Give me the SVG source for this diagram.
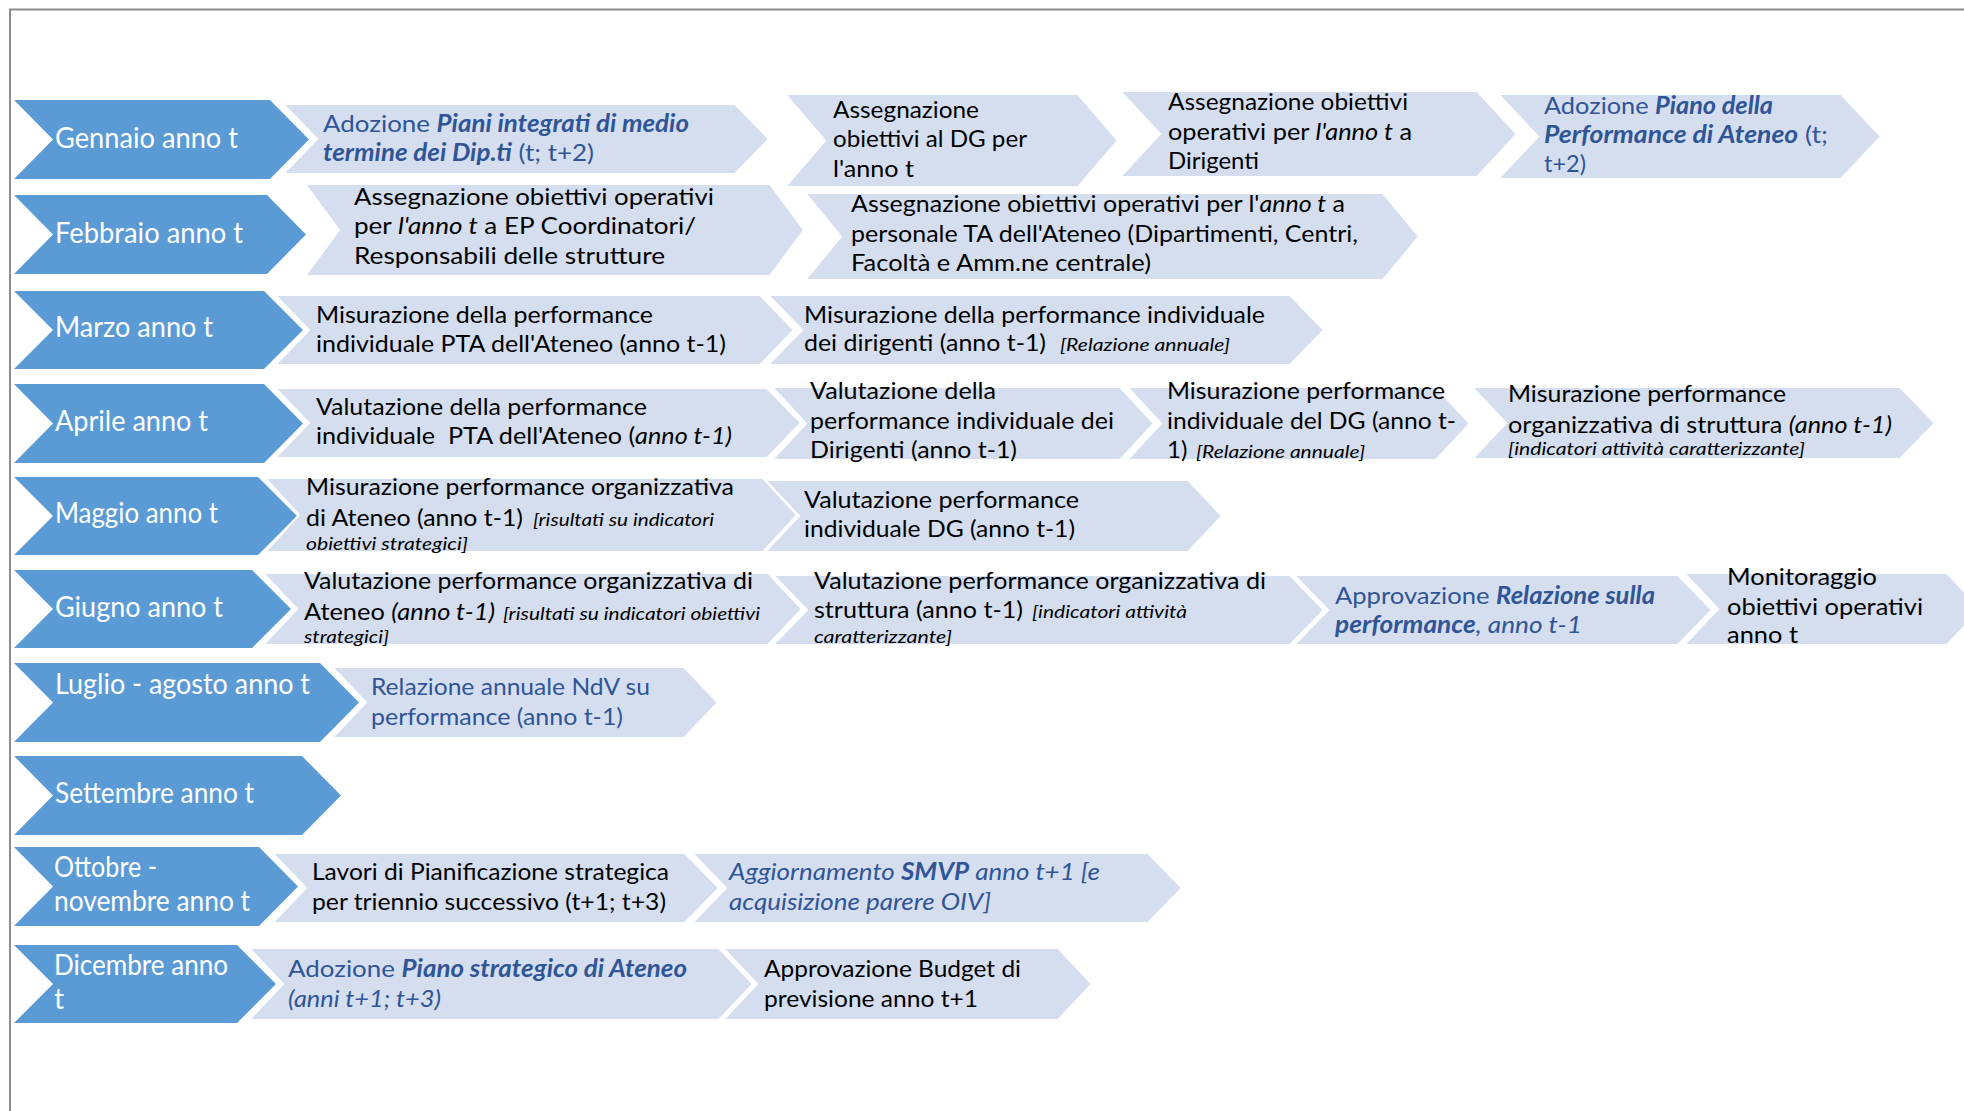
<svg xmlns="http://www.w3.org/2000/svg" width="1964" height="1111" viewBox="0 0 1964 1111">
<style>
.m{fill:#5B9BD5}
.l{fill:#D5DEEF;stroke:#fff;stroke-width:2}
text{font-family:Lato,"Liberation Sans",sans-serif}
.mt{font-size:28px;fill:#fff}
.t{font-size:24px;fill:#000}
.b{fill:#2F5597}
.s{font-size:18px;font-style:italic}
.i{font-style:italic}
.bi{font-weight:bold;font-style:italic}
</style>
<rect width="1964" height="1111" fill="#fff"/>
<path d="M10,1120 V9.5 H1975" fill="none" stroke="#8C8C8C" stroke-width="2"/>
<g id="connectors"/>

<g id="gennaio">
<polygon class="m" points="14,100 270,100 309,139.5 270,179 14,179 53,139.5"/>
<text class="mt" x="55" y="148" textLength="183" lengthAdjust="spacingAndGlyphs">Gennaio anno t</text>
</g>
<g id="gen-1">
<polygon class="l" points="283,104 735,104 769,139 735,174 283,174 317,139"/>
<text class="t b" x="323" y="132" textLength="366" lengthAdjust="spacingAndGlyphs">Adozione <tspan class="bi">Piani integrati di medio</tspan></text>
<text class="t b" x="323" y="161" textLength="271" lengthAdjust="spacingAndGlyphs"><tspan class="bi">termine dei Dip.ti</tspan> (t; t+2)</text>
</g>
<g id="gen-2">
<polygon class="l" points="785,94 1078,94 1118,140.5 1078,187 785,187 825,140.5"/>
<text class="t" x="833" y="118" textLength="146" lengthAdjust="spacingAndGlyphs">Assegnazione</text>
<text class="t" x="833" y="147" textLength="194" lengthAdjust="spacingAndGlyphs">obiettivi al DG per</text>
<text class="t" x="833" y="177" textLength="81" lengthAdjust="spacingAndGlyphs">l'anno t</text>
</g>
<g id="gen-3">
<polygon class="l" points="1120,91 1477,91 1517,134 1477,177 1120,177 1160,134"/>
<text class="t" x="1168" y="110" textLength="240" lengthAdjust="spacingAndGlyphs">Assegnazione obiettivi</text>
<text class="t" x="1168" y="140" textLength="244" lengthAdjust="spacingAndGlyphs">operativi per <tspan class="i">l'anno t</tspan> a</text>
<text class="t" x="1168" y="169" textLength="91" lengthAdjust="spacingAndGlyphs">Dirigenti</text>
</g>
<g id="gen-4">
<polygon class="l" points="1498,94 1841,94 1881,136.5 1841,179 1498,179 1538,136.5"/>
<text class="t b" x="1544" y="114" textLength="229" lengthAdjust="spacingAndGlyphs">Adozione <tspan class="bi">Piano della</tspan></text>
<text class="t b" x="1544" y="143" textLength="284" lengthAdjust="spacingAndGlyphs"><tspan class="bi">Performance di Ateneo</tspan> (t;</text>
<text class="t b" x="1544" y="172" textLength="42" lengthAdjust="spacingAndGlyphs">t+2)</text>
</g>

<g id="febbraio">
<polygon class="m" points="14,195 267,195 306,234.5 267,274 14,274 53,234.5"/>
<text class="mt" x="55" y="243" textLength="188" lengthAdjust="spacingAndGlyphs">Febbraio anno t</text>
</g>
<g id="feb-1">
<polygon class="l" points="305,184 770,184 804,230 770,276 305,276 339,230"/>
<text class="t" x="354" y="205" textLength="360" lengthAdjust="spacingAndGlyphs">Assegnazione obiettivi operativi</text>
<text class="t" x="354" y="234" textLength="342" lengthAdjust="spacingAndGlyphs">per <tspan class="i">l'anno t</tspan> a EP Coordinatori/</text>
<text class="t" x="354" y="264" textLength="311" lengthAdjust="spacingAndGlyphs">Responsabili delle strutture</text>
</g>
<g id="feb-2">
<polygon class="l" points="805,193 1383,193 1419,236.5 1383,280 805,280 841,236.5"/>
<text class="t" x="851" y="212" textLength="494" lengthAdjust="spacingAndGlyphs">Assegnazione obiettivi operativi per l'<tspan class="i">anno t</tspan> a</text>
<text class="t" x="851" y="242" textLength="507" lengthAdjust="spacingAndGlyphs">personale TA dell'Ateneo (Dipartimenti, Centri,</text>
<text class="t" x="851" y="271" textLength="300" lengthAdjust="spacingAndGlyphs">Facoltà e Amm.ne centrale)</text>
</g>

<g id="marzo">
<polygon class="m" points="14,291 264,291 303,330 264,369 14,369 53,330"/>
<text class="mt" x="55" y="337" textLength="158" lengthAdjust="spacingAndGlyphs">Marzo anno t</text>
</g>
<g id="mar-1">
<polygon class="l" points="275,295 760,295 794,330 760,365 275,365 309,330"/>
<text class="t" x="316" y="323" textLength="337" lengthAdjust="spacingAndGlyphs">Misurazione della performance</text>
<text class="t" x="316" y="352" textLength="410" lengthAdjust="spacingAndGlyphs">individuale PTA dell'Ateneo (anno t-1)</text>
</g>
<g id="mar-2">
<polygon class="l" points="768,295 1290,295 1324,330 1290,365 768,365 802,330"/>
<text class="t" x="804" y="323" textLength="461" lengthAdjust="spacingAndGlyphs">Misurazione della performance individuale</text>
<text class="t" x="804" y="351" textLength="242" lengthAdjust="spacingAndGlyphs">dei dirigenti (anno t-1)</text>
<text class="t s" x="1060" y="351" textLength="170" lengthAdjust="spacingAndGlyphs">[Relazione annuale]</text>
</g>

<g id="aprile">
<polygon class="m" points="14,384 264,384 303,423.5 264,463 14,463 53,423.5"/>
<text class="mt" x="55" y="431" textLength="153" lengthAdjust="spacingAndGlyphs">Aprile anno t</text>
</g>
<g id="apr-1">
<polygon class="l" points="275,388 767,388 801,423 767,458 275,458 309,423"/>
<text class="t" x="316" y="415" textLength="331" lengthAdjust="spacingAndGlyphs">Valutazione della performance</text>
<text class="t" x="316" y="444" textLength="416" lengthAdjust="spacingAndGlyphs">individuale &#160;PTA dell'Ateneo (<tspan class="i">anno t-1)</tspan></text>
</g>
<g id="apr-2">
<polygon class="l" points="772,387 1120,387 1154,423.5 1120,460 772,460 806,423.5"/>
<text class="t" x="810" y="399" textLength="186" lengthAdjust="spacingAndGlyphs">Valutazione della</text>
<text class="t" x="810" y="429" textLength="304" lengthAdjust="spacingAndGlyphs">performance individuale dei</text>
<text class="t" x="810" y="458" textLength="207" lengthAdjust="spacingAndGlyphs">Dirigenti (anno t-1)</text>
</g>
<g id="apr-3">
<polygon class="l" points="1127,387 1436,387 1470,423.5 1436,460 1127,460 1161,423.5"/>
<text class="t" x="1167" y="399" textLength="278" lengthAdjust="spacingAndGlyphs">Misurazione performance</text>
<text class="t" x="1167" y="429" textLength="289" lengthAdjust="spacingAndGlyphs">individuale del DG (anno t-</text>
<text class="t" x="1167" y="458">1)</text>
<text class="t s" x="1196" y="458" textLength="169" lengthAdjust="spacingAndGlyphs">[Relazione annuale]</text>
</g>
<g id="apr-4">
<polygon class="l" points="1472,387 1900,387 1935,423 1900,459 1472,459 1506,423"/>
<text class="t" x="1508" y="402" textLength="278" lengthAdjust="spacingAndGlyphs">Misurazione performance</text>
<text class="t" x="1508" y="433" textLength="384" lengthAdjust="spacingAndGlyphs">organizzativa di struttura <tspan class="i">(anno t-1)</tspan></text>
<text class="t s" x="1508" y="455" textLength="297" lengthAdjust="spacingAndGlyphs">[indicatori attività caratterizzante]</text>
</g>

<g id="maggio">
<polygon class="m" points="14,477 258,477 297,516 258,555 14,555 53,516"/>
<text class="mt" x="55" y="523" textLength="163" lengthAdjust="spacingAndGlyphs">Maggio anno t</text>
</g>
<g id="mag-1">
<polygon class="l" points="265,478 763,478 797,515 763,552 265,552 299,515"/>
<text class="t" x="306" y="495" textLength="428" lengthAdjust="spacingAndGlyphs">Misurazione performance organizzativa</text>
<text class="t" x="306" y="526" textLength="217" lengthAdjust="spacingAndGlyphs">di Ateneo (anno t-1)</text>
<text class="t s" x="533" y="526" textLength="181" lengthAdjust="spacingAndGlyphs">[risultati su indicatori</text>
<text class="t s" x="306" y="550" textLength="162" lengthAdjust="spacingAndGlyphs">obiettivi strategici]</text>
</g>
<g id="mag-2">
<polygon class="l" points="765,480 1188,480 1222,516 1188,552 765,552 799,516"/>
<text class="t" x="804" y="508" textLength="275" lengthAdjust="spacingAndGlyphs">Valutazione performance</text>
<text class="t" x="804" y="537" textLength="271" lengthAdjust="spacingAndGlyphs">individuale DG (anno t-1)</text>
</g>

<g id="giugno">
<polygon class="m" points="14,570 252,570 291,609 252,648 14,648 53,609"/>
<text class="mt" x="55" y="617" textLength="168" lengthAdjust="spacingAndGlyphs">Giugno anno t</text>
</g>
<g id="giu-1">
<polygon class="l" points="263,573 768,573 802,609 768,645 263,645 297,609"/>
<text class="t" x="304" y="589" textLength="449" lengthAdjust="spacingAndGlyphs">Valutazione performance organizzativa di</text>
<text class="t" x="304" y="620" textLength="191" lengthAdjust="spacingAndGlyphs">Ateneo <tspan class="i">(anno t-1)</tspan></text>
<text class="t s" x="503" y="620" textLength="257" lengthAdjust="spacingAndGlyphs">[risultati su indicatori obiettivi</text>
<text class="t s" x="304" y="643" textLength="85" lengthAdjust="spacingAndGlyphs">strategici]</text>
</g>
<g id="giu-2">
<polygon class="l" points="773,575 1290,575 1324,610 1290,645 773,645 807,610"/>
<text class="t" x="814" y="589" textLength="452" lengthAdjust="spacingAndGlyphs">Valutazione performance organizzativa di</text>
<text class="t" x="814" y="618" textLength="209" lengthAdjust="spacingAndGlyphs">struttura (anno t-1)</text>
<text class="t s" x="1032" y="618" textLength="155" lengthAdjust="spacingAndGlyphs">[indicatori attività</text>
<text class="t s" x="814" y="643" textLength="138" lengthAdjust="spacingAndGlyphs">caratterizzante]</text>
</g>
<g id="giu-3">
<polygon class="l" points="1294,575 1678,575 1712,610 1678,645 1294,645 1328,610"/>
<text class="t b" x="1335" y="604" textLength="320" lengthAdjust="spacingAndGlyphs">Approvazione <tspan class="bi">Relazione sulla</tspan></text>
<text class="t b" x="1335" y="633" textLength="247" lengthAdjust="spacingAndGlyphs"><tspan class="bi">performance</tspan><tspan class="i">, anno t-1</tspan></text>
</g>
<g id="giu-4">
<polygon class="l" points="1684,573 1947,573 1981,609 1947,645 1684,645 1718,609"/>
<text class="t" x="1727" y="585" textLength="150" lengthAdjust="spacingAndGlyphs">Monitoraggio</text>
<text class="t" x="1727" y="615" textLength="196" lengthAdjust="spacingAndGlyphs">obiettivi operativi</text>
<text class="t" x="1727" y="643" textLength="71" lengthAdjust="spacingAndGlyphs">anno t</text>
</g>

<g id="luglio">
<polygon class="m" points="14,663 320,663 359,702.5 320,742 14,742 53,702.5"/>
<text class="mt" x="55" y="694" textLength="255" lengthAdjust="spacingAndGlyphs">Luglio - agosto anno t</text>
</g>
<g id="lug-1">
<polygon class="l" points="332,667 684,667 718,702.5 684,738 332,738 366,702.5"/>
<text class="t b" x="371" y="695" textLength="279" lengthAdjust="spacingAndGlyphs">Relazione annuale NdV su</text>
<text class="t b" x="371" y="725" textLength="252" lengthAdjust="spacingAndGlyphs">performance (anno t-1)</text>
</g>

<g id="settembre">
<polygon class="m" points="14,756 302,756 341,795.5 302,835 14,835 53,795.5"/>
<text class="mt" x="55" y="803" textLength="199" lengthAdjust="spacingAndGlyphs">Settembre anno t</text>
</g>

<g id="ottobre">
<polygon class="m" points="14,847 259,847 298,886.5 259,926 14,926 53,886.5"/>
<text class="mt" x="54" y="877" textLength="103" lengthAdjust="spacingAndGlyphs">Ottobre -</text>
<text class="mt" x="54" y="911" textLength="196" lengthAdjust="spacingAndGlyphs">novembre anno t</text>
</g>
<g id="ott-1">
<polygon class="l" points="272,853 685,853 719,888 685,923 272,923 306,888"/>
<text class="t" x="312" y="880" textLength="357" lengthAdjust="spacingAndGlyphs">Lavori di Pianificazione strategica</text>
<text class="t" x="312" y="910" textLength="354" lengthAdjust="spacingAndGlyphs">per triennio successivo (t+1; t+3)</text>
</g>
<g id="ott-2">
<polygon class="l" points="692,853 1148,853 1182,888 1148,923 692,923 726,888"/>
<text class="t b i" x="729" y="880" textLength="371" lengthAdjust="spacingAndGlyphs">Aggiornamento <tspan class="bi">SMVP</tspan> anno t+1 [e</text>
<text class="t b i" x="729" y="910" textLength="262" lengthAdjust="spacingAndGlyphs">acquisizione parere OIV]</text>
</g>

<g id="dicembre">
<polygon class="m" points="14,945 237,945 276,984 237,1023 14,1023 53,984"/>
<text class="mt" x="54" y="975" textLength="174" lengthAdjust="spacingAndGlyphs">Dicembre anno</text>
<text class="mt" x="54" y="1009">t</text>
</g>
<g id="dic-1">
<polygon class="l" points="249,948 719,948 753,984 719,1020 249,1020 283,984"/>
<text class="t b" x="288" y="977" textLength="399" lengthAdjust="spacingAndGlyphs">Adozione <tspan class="bi">Piano strategico di Ateneo</tspan></text>
<text class="t b i" x="288" y="1007" textLength="153" lengthAdjust="spacingAndGlyphs">(anni t+1; t+3)</text>
</g>
<g id="dic-2">
<polygon class="l" points="723,948 1058,948 1092,984 1058,1020 723,1020 757,984"/>
<text class="t" x="764" y="977" textLength="257" lengthAdjust="spacingAndGlyphs">Approvazione Budget di</text>
<text class="t" x="764" y="1007" textLength="214" lengthAdjust="spacingAndGlyphs">previsione anno t+1</text>
</g>
</svg>
